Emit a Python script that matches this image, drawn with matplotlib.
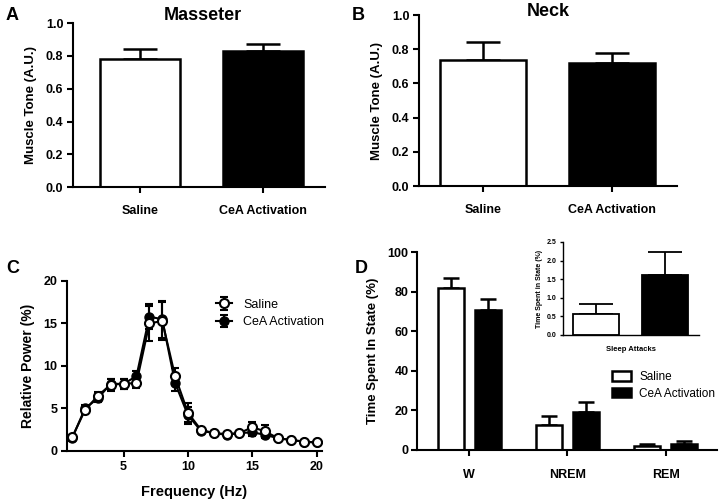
import matplotlib
matplotlib.use("Agg")
import matplotlib.pyplot as plt
import numpy as np

plt.rcParams['font.family'] = ['Liberation Sans', 'DejaVu Sans']
plt.rcParams['font.weight'] = 'bold'

# ---- data ----
groups = ["Saline", "CeA Activation"]
masseter_mean = [0.78, 0.83]
masseter_sem = [0.06, 0.04]
neck_mean = [0.74, 0.72]
neck_sem = [0.10, 0.06]

freq = list(range(1, 21))
saline_power = [1.6, 4.8, 6.5, 7.8, 7.9, 8.0, 15.0, 15.3, 8.8, 4.5, 2.5, 2.1, 2.0, 2.1, 2.8, 2.3, 1.5, 1.3, 1.1, 1.0]
saline_power_err = [0.3, 0.4, 0.4, 0.7, 0.6, 0.6, 2.1, 2.2, 1.0, 1.1, 0.3, 0.2, 0.2, 0.3, 0.6, 0.7, 0.2, 0.2, 0.1, 0.1]
cea_power = [1.5, 5.0, 6.2, 7.9, 7.9, 8.8, 15.8, 15.5, 8.0, 4.2, 2.4, 2.1, 1.9, 2.1, 2.2, 1.9, 1.5, 1.3, 1.1, 1.0]
cea_power_err = [0.3, 0.4, 0.4, 0.6, 0.6, 0.6, 1.5, 2.2, 1.0, 1.0, 0.3, 0.2, 0.2, 0.3, 0.4, 0.4, 0.2, 0.2, 0.1, 0.1]

states = ["W", "NREM", "REM"]
saline_state = [82.0, 12.5, 2.2]
saline_state_err = [5.0, 4.5, 0.8]
cea_state = [70.5, 19.0, 3.2]
cea_state_err = [6.0, 5.0, 1.1]

inset_label = "Sleep Attacks"
inset_mean = [0.57, 1.60]
inset_err = [0.26, 0.63]

fig = plt.figure(figsize=(7.2, 5.03), dpi=100)

def style(ax, lw=1.5, pad=3):
    for s in ["top", "right"]:
        ax.spines[s].set_visible(False)
    for s in ["left", "bottom"]:
        ax.spines[s].set_linewidth(lw)
    ax.tick_params(width=lw, length=4, labelsize=9, pad=pad)
    for lab in ax.get_xticklabels() + ax.get_yticklabels():
        lab.set_fontweight('bold')

def bar_panel(ax, means, errs, xlim, width):
    x = np.arange(len(groups))
    ax.bar(x, means, width=width, color=["white", "black"], edgecolor="black", linewidth=1.8, zorder=2)
    ax.errorbar(x, means, yerr=[[0]*len(errs), errs], fmt="none", ecolor="black", elinewidth=1.8, capsize=12, capthick=1.8, zorder=1)
    ax.set_xlim(*xlim)
    ax.set_ylim(0, 1.0)
    ax.set_yticks(np.arange(0, 1.01, 0.2))
    ax.set_yticklabels([f"{v:.1f}" for v in np.arange(0, 1.01, 0.2)])
    ax.set_xticks(x)
    ax.set_xticklabels(groups)
    ax.set_ylabel("Muscle Tone (A.U.)", fontsize=9.5, fontweight='bold', labelpad=6)
    style(ax)
    ax.tick_params(axis='x', pad=9)

axA = fig.add_axes([0.1014, 0.628, 0.35, 0.326])
bar_panel(axA, masseter_mean, masseter_sem, (-0.545, 1.504), 0.65)
axB = fig.add_axes([0.582, 0.630, 0.358, 0.340])
bar_panel(axB, neck_mean, neck_sem, (-0.496, 1.504), 0.67)
fig.text(203/720, 1 - 15/503, "Masseter", fontsize=13, fontweight='bold', ha='center', va='center')
fig.text(548/720, 1 - 12/503, "Neck", fontsize=13, fontweight='bold', ha='center', va='center')

# Panel C
axC = fig.add_axes([0.093, 0.1034, 0.354, 0.338])
axC.errorbar(freq, cea_power, yerr=cea_power_err, color="black", lw=1.5, marker="o", ms=6.5,
             mfc="black", mec="black", capsize=3, elinewidth=1.5, capthick=1.5, label="CeA Activation", zorder=2)
axC.errorbar(freq, saline_power, yerr=saline_power_err, color="black", lw=1.5, marker="o", ms=6.5,
             mfc="white", mec="black", mew=1.5, capsize=3, elinewidth=1.5, capthick=1.5, label="Saline", zorder=3)
axC.set_xlim(0.6, 20.4)
axC.set_ylim(0, 20)
axC.set_xticks([5, 10, 15, 20])
axC.set_yticks([0, 5, 10, 15, 20])
axC.set_xlabel("Frequency (Hz)", fontsize=10.5, fontweight='bold', labelpad=9)
axC.set_ylabel("Relative Power (%)", fontsize=10, fontweight='bold', labelpad=6)
style(axC)
h, l = axC.get_legend_handles_labels()
legC = axC.legend([h[1], h[0]], [l[1], l[0]], loc="upper left", bbox_to_anchor=(0.584, 0.895),
                  frameon=False, fontsize=9, handlelength=1.3, handletextpad=0.9, labelspacing=0.45,
                  borderpad=0, borderaxespad=0)
for t in legC.get_texts():
    t.set_fontweight('normal')

# Panel D
axD = fig.add_axes([0.579, 0.1054, 0.417, 0.3936])
xs = np.arange(len(states))
off = 0.188
bw = 0.265
axD.bar(xs - off, saline_state, width=bw, color="white", edgecolor="black", linewidth=1.8, label="Saline", zorder=2)
axD.bar(xs + off, cea_state, width=bw, color="black", edgecolor="black", linewidth=1.8, label="CeA Activation", zorder=2)
axD.errorbar(xs - off, saline_state, yerr=[[0]*3, saline_state_err], fmt="none", ecolor="black", elinewidth=1.8, capsize=6, capthick=1.8, zorder=1)
axD.errorbar(xs + off, cea_state, yerr=[[0]*3, cea_state_err], fmt="none", ecolor="black", elinewidth=1.8, capsize=6, capthick=1.8, zorder=1)
axD.set_xlim(-0.53, 2.52)
axD.set_ylim(0, 100)
axD.set_yticks([0, 20, 40, 60, 80, 100])
axD.set_xticks(xs)
axD.set_xticklabels(states)
axD.set_ylabel("Time Spent In State (%)", fontsize=9.5, fontweight='bold', labelpad=6)
style(axD, pad=2)
axD.tick_params(axis='x', pad=10)
legD = axD.legend(loc="upper left", bbox_to_anchor=(0.65, 0.40), frameon=False, fontsize=8.5,
                  handlelength=1.6, handleheight=0.9, handletextpad=0.7, labelspacing=0.4,
                  borderpad=0, borderaxespad=0)
for t in legD.get_texts():
    t.set_fontweight('normal')

# inset
axI = fig.add_axes([0.782, 0.334, 0.189, 0.185])
xi = np.arange(2)
axI.bar(xi, inset_mean, width=0.67, color=["white", "black"], edgecolor="black", linewidth=1.3, zorder=2)
axI.errorbar(xi, inset_mean, yerr=[[0, 0], inset_err], fmt="none", ecolor="black", elinewidth=1.3, capsize=12, capthick=1.3, zorder=1)
axI.set_xlim(-0.48, 1.49)
axI.set_ylim(0, 2.5)
axI.set_yticks(np.arange(0, 2.51, 0.5))
axI.set_yticklabels([f"{v:.1f}" for v in np.arange(0, 2.51, 0.5)])
axI.set_xticks([])
axI.set_xlabel(inset_label, fontsize=5.5, fontweight='bold', labelpad=8)
axI.set_ylabel("Time Spent in State (%)", fontsize=5, fontweight='bold', labelpad=2)
style(axI, lw=1.0)
axI.tick_params(labelsize=5, length=2)
for lab in axI.get_yticklabels():
    lab.set_fontweight('bold')

# panel letters
for letter, x, y in [("A", 0.008, 0.97), ("B", 0.489, 0.97), ("C", 0.008, 0.467), ("D", 0.493, 0.467)]:
    fig.text(x, y, letter, fontsize=13, fontweight='bold', va='center', ha='left')

fig.savefig("out.png", dpi=100)
